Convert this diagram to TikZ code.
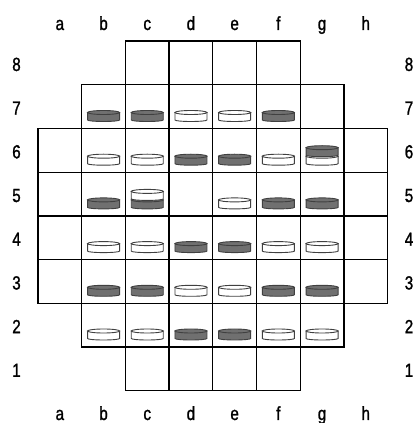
\documentclass[tikz,border=0pt]{standalone}
\usepackage{fontspec}
\setmainfont{Liberation Sans}[FakeStretch=0.8,FakeBold=1.2]
\definecolor{dk}{HTML}{707070}
\definecolor{wt}{HTML}{FFFFFF}
% one disc: column, row, level in stack, fill colour
\newcommand{\drawdisc}[4]{%
  \pgfmathsetmacro{\dx}{38+(#1-0.5)*43.7}%
  \pgfmathsetmacro{\dy}{32.3+(#2-1)*43.7+7+#3*8.5}%
  \draw[disc,fill=#4] (\dx-16,\dy+9) -- (\dx-16,\dy+1.5)
    arc[start angle=180,end angle=360,x radius=16pt,y radius=1.5pt] -- (\dx+16,\dy+9) -- cycle;
  \draw[disc,fill=#4] (\dx,\dy+9) ellipse[x radius=16pt,y radius=2pt];
}
\begin{document}
\begin{tikzpicture}[x=1pt,y=1pt,
  cell/.style={draw=black,line width=1.3pt},
  disc/.style={draw=black!75,line width=0.9pt},
  lbl/.style={anchor=base,font=\fontsize{19}{21}\selectfont}]
  \useasboundingbox (0,0) rectangle (416,423);
  \foreach \r/\lo/\hi in {8/3/6,7/2/7,6/1/8,5/1/8,4/1/8,3/1/8,2/2/7,1/3/6}
    \foreach \c in {\lo,...,\hi}
      \draw[cell] ({38+(\c-1)*43.7},{32.3+(\r-1)*43.7}) rectangle +(43.7,43.7);
  \foreach \c/\l in {1/a,2/b,3/c,4/d,5/e,6/f,7/g,8/h} {
    \node[lbl] (top\l) at ({38+(\c-0.5)*43.7},393) {\l};
    \node[lbl] (bot\l) at ({38+(\c-0.5)*43.7},3) {\l};
  }
  \foreach \r in {1,...,8} {
    \node[lbl] (left\r) at (16.5,{32.3+(\r-0.5)*43.7-8}) {\r};
    \node[lbl] (right\r) at (409,{32.3+(\r-0.5)*43.7-8}) {\r};
  }
  % single discs
  \foreach \c/\r/\f in {2/7/dk,3/7/dk,4/7/wt,5/7/wt,6/7/dk,
      2/6/wt,3/6/wt,4/6/dk,5/6/dk,6/6/wt,
      2/5/dk,5/5/wt,6/5/dk,7/5/dk,
      2/4/wt,3/4/wt,4/4/dk,5/4/dk,6/4/wt,7/4/wt,
      2/3/dk,3/3/dk,4/3/wt,5/3/wt,6/3/dk,7/3/dk,
      2/2/wt,3/2/wt,4/2/dk,5/2/dk,6/2/wt,7/2/wt}
    {\drawdisc{\c}{\r}{0}{\f}}
  % stacks
  \drawdisc{7}{6}{0}{wt}\drawdisc{7}{6}{1}{dk}
  \drawdisc{3}{5}{0}{dk}\drawdisc{3}{5}{1}{wt}
\end{tikzpicture}
\end{document}
